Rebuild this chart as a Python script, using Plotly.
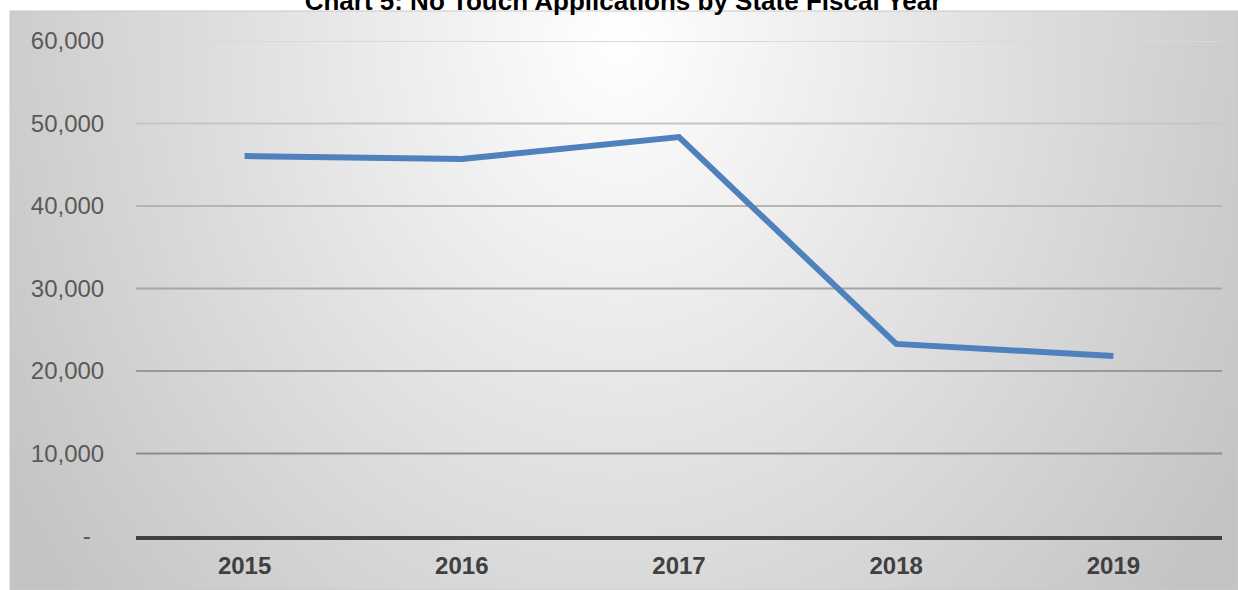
import base64
import plotly.graph_objects as go

# ---- data ----
years = ["2015", "2016", "2017", "2018", "2019"]
applications = [46050, 45700, 48350, 23280, 21820]
y_tick_values = [0, 10000, 20000, 30000, 40000, 50000, 60000]
y_tick_labels = ["-\u00a0\u00a0", "10,000", "20,000", "30,000", "40,000", "50,000", "60,000"]
grid_colors = ["#404040", "#8c8c8c", "#999999", "#a6a6a6", "#b5b5b5", "#c6c6c6", "#d9d9d9"]
title_text = "Chart 5: No Touch Applications by State Fiscal Year"

W, H = 1238, 590
BX, BY = 10, 11  # chart box origin (px)
PL, PR = 136, 1222  # plot area left/right (px)
PT, PB = 41, 536   # plot area top/bottom (px)

# radial gradient background as an SVG image
bw, bh = W - BX, H - BY
svg = (
    f'<svg xmlns="http://www.w3.org/2000/svg" width="{bw}" height="{bh}" '
    f'viewBox="0 0 {bw} {bh}" preserveAspectRatio="none">'
    '<defs><radialGradient id="g" gradientUnits="userSpaceOnUse" cx="610" cy="25" r="720" '
    'gradientTransform="translate(610 25) scale(1 1.2) translate(-610 -25)">'
    '<stop offset="0" stop-color="#ffffff"/><stop offset="1" stop-color="#c4c4c4"/>'
    '</radialGradient></defs>'
    f'<rect x="0" y="0" width="{bw}" height="{bh}" fill="url(#g)"/></svg>'
)
src = "data:image/svg+xml;base64," + base64.b64encode(svg.encode()).decode()

fig = go.Figure()
fig.add_trace(go.Scatter(
    x=years, y=applications, mode="lines",
    line=dict(color="#4f81bd", width=6),
    hoverinfo="x+y",
))

shapes = []
for v, c in zip(y_tick_values, grid_colors):
    if v == 0:
        continue
    shapes.append(dict(type="line", xref="x", yref="y", x0=-0.5, x1=4.5, y0=v, y1=v,
                       line=dict(color=c, width=1.8), layer="below"))
# chart box border
shapes.append(dict(type="rect", xref="paper", yref="paper",
                   x0=BX / W, x1=1.0, y0=0, y1=1 - BY / H,
                   line=dict(color="#c8c8c8", width=1), layer="below"))

fig.update_layout(
    width=W, height=H,
    autosize=False,
    margin=dict(l=0, r=0, t=0, b=0, pad=0),
    paper_bgcolor="white",
    plot_bgcolor="rgba(0,0,0,0)",
    showlegend=False,
    images=[dict(source=src, xref="paper", yref="paper", x=BX / W, y=1 - BY / H,
                 sizex=(W - BX) / W, sizey=(H - BY) / H, sizing="stretch",
                 xanchor="left", yanchor="top", layer="below")],
    shapes=shapes,
    title=dict(text="<b>" + title_text + "</b>", xref="container", yref="container",
               x=623 / W, y=1 - 1 / H, xanchor="center", yanchor="middle",
               font=dict(family="Liberation Sans, Arial", size=26, color="#000000")),
    xaxis=dict(
        domain=[PL / W, PR / W],
        range=[-0.5, 4.5],
        automargin=False,
        showgrid=False, zeroline=False,
        showline=True, linecolor="#404040", linewidth=4,
        ticks="outside", ticklen=5, tickcolor="rgba(0,0,0,0)",
        tickfont=dict(family="Liberation Sans, Arial", size=24, color="#404040", weight="bold"),
        fixedrange=True,
    ),
    yaxis=dict(
        domain=[(H - PB) / H, (H - PT) / H],
        range=[0, 60000],
        automargin=False,
        tickvals=y_tick_values, ticktext=y_tick_labels,
        showgrid=False, zeroline=False, showline=False,
        ticks="outside", ticklen=26, tickcolor="rgba(0,0,0,0)",
        tickfont=dict(family="Liberation Sans, Arial", size=24, color="#595959"),
        fixedrange=True,
    ),
)

fig.write_html(
    "out.html",
    config={"displayModeBar": False},
    post_script="document.body.style.margin='0';document.body.style.overflow='hidden';",
)
